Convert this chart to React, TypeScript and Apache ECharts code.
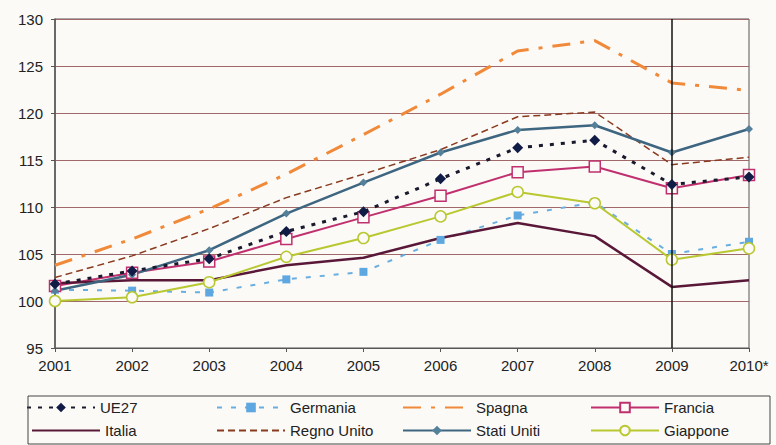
import React, { useEffect, useRef } from "react";
import * as echarts from "echarts";

const years = ["2001", "2002", "2003", "2004", "2005", "2006", "2007", "2008", "2009", "2010*"];
const ue27 = [101.8, 103.2, 104.5, 107.4, 109.5, 113.0, 116.3, 117.1, 112.4, 113.2];
const germania = [101.2, 101.1, 100.9, 102.3, 103.1, 106.5, 109.1, 110.5, 105.0, 106.3];
const spagna = [103.8, 106.6, 109.8, 113.5, 117.7, 122.0, 126.6, 127.7, 123.2, 122.4];
const francia = [101.6, 103.0, 104.2, 106.6, 108.9, 111.2, 113.7, 114.3, 112.0, 113.4];
const italia = [101.9, 102.2, 102.2, 103.8, 104.6, 106.7, 108.3, 106.9, 101.5, 102.2];
const regnoUnito = [102.5, 104.8, 107.7, 111.0, 113.5, 116.1, 119.6, 120.1, 114.5, 115.3];
const statiUniti = [101.1, 102.8, 105.4, 109.3, 112.6, 115.8, 118.2, 118.7, 115.8, 118.3];
const giappone = [100.0, 100.4, 102.0, 104.7, 106.7, 109.0, 111.6, 110.4, 104.4, 105.6];
const yTicks = { min: 95, max: 130, interval: 5 };
const markYear = "2009";

export default function App() {
  const ref = useRef<HTMLDivElement>(null);
  useEffect(() => {
    const chart = echarts.init(ref.current!, null, { renderer: "svg" });
    const font = "Liberation Sans, Arial, sans-serif";
    const mkLegend = (name: string, left: number, top: number, hideSymbol = false) => ({
      data: [hideSymbol ? { name, itemStyle: { opacity: 0 } } : name],
      left,
      top,
      padding: 0,
      itemWidth: 68,
      itemHeight: 12,
      textStyle: { fontFamily: font, fontSize: 15, color: "#222" },
      selectedMode: false,
    });
    chart.setOption({
      animation: false,
      backgroundColor: "#fbfaf7",
      grid: {
        left: 55,
        right: 27,
        top: 19,
        bottom: 97,
        show: true,
        borderColor: "#555",
        borderWidth: 1,
      },
      legend: [
        mkLegend("UE27", 26, 400),
        mkLegend("Germania", 216, 400),
        mkLegend("Spagna", 402, 400, true),
        mkLegend("Francia", 590, 400),
        mkLegend("Italia", 31, 423, true),
        mkLegend("Regno Unito", 216, 423, true),
        mkLegend("Stati Uniti", 402, 423),
        mkLegend("Giappone", 590, 423),
      ],
      graphic: [
        {
          type: "rect",
          shape: { x: 28, y: 396, width: 742, height: 48 },
          style: { fill: "none", stroke: "#444", lineWidth: 1 },
          z: 10,
        },
      ],
      xAxis: {
        type: "category",
        data: years,
        boundaryGap: false,
        axisLine: { lineStyle: { color: "#555", width: 1 } },
        axisTick: { show: true, length: 4, lineStyle: { color: "#555" } },
        axisLabel: { fontFamily: font, fontSize: 15, color: "#222", margin: 10, interval: 0 },
        splitLine: { show: false },
      },
      yAxis: {
        type: "value",
        min: yTicks.min,
        max: yTicks.max,
        interval: yTicks.interval,
        axisLine: { show: true, lineStyle: { color: "#555", width: 1.5 } },
        axisTick: { show: true, length: 4, lineStyle: { color: "#555" } },
        axisLabel: { fontFamily: font, fontSize: 15, color: "#222", margin: 12 },
        splitLine: { show: true, lineStyle: { color: "#a06868", width: 1 } },
      },
      series: [
        {
          name: "UE27",
          type: "line",
          data: ue27,
          symbol: "diamond",
          symbolSize: 11,
          itemStyle: { color: "#101c45" },
          lineStyle: { color: "#1a1a2e", width: 3, type: [4, 7] },
          z: 6,
          markLine: {
            silent: true,
            symbol: "none",
            label: { show: false },
            lineStyle: { color: "#111", width: 1.5, type: "solid" },
            data: [{ xAxis: markYear }],
          },
        },
        {
          name: "Germania",
          type: "line",
          data: germania,
          symbol: "rect",
          symbolSize: 8,
          itemStyle: { color: "#5ea7e0" },
          lineStyle: { color: "#6aaee0", width: 2, type: [5, 9] },
        },
        {
          name: "Spagna",
          type: "line",
          data: spagna,
          symbol: "none",
          itemStyle: { color: "#f08a3a" },
          lineStyle: { color: "#f08a3a", width: 3, type: [18, 10, 4, 10] },
        },
        {
          name: "Francia",
          type: "line",
          data: francia,
          symbol: "rect",
          symbolSize: 11,
          itemStyle: { color: "#fbfaf7", borderColor: "#c0306e", borderWidth: 1.5 },
          lineStyle: { color: "#c0306e", width: 2 },
        },
        {
          name: "Italia",
          type: "line",
          data: italia,
          symbol: "none",
          itemStyle: { color: "#5a1838" },
          lineStyle: { color: "#5a1838", width: 2.5 },
        },
        {
          name: "Regno Unito",
          type: "line",
          data: regnoUnito,
          symbol: "none",
          itemStyle: { color: "#8a3a1e" },
          lineStyle: { color: "#8a3a1e", width: 1.5, type: [7, 4] },
        },
        {
          name: "Stati Uniti",
          type: "line",
          data: statiUniti,
          symbol: "diamond",
          symbolSize: 8,
          itemStyle: { color: "#55809a" },
          lineStyle: { color: "#3e6680", width: 2.5 },
        },
        {
          name: "Giappone",
          type: "line",
          data: giappone,
          symbol: "circle",
          symbolSize: 11,
          itemStyle: { color: "#fbfaf7", borderColor: "#b9c830", borderWidth: 1.5 },
          lineStyle: { color: "#b9c830", width: 2 },
        },
      ],
    });
    return () => chart.dispose();
  }, []);
  return <div ref={ref} style={{ width: 776, height: 445, position: "absolute", left: 0, top: 0 }} />;
}
